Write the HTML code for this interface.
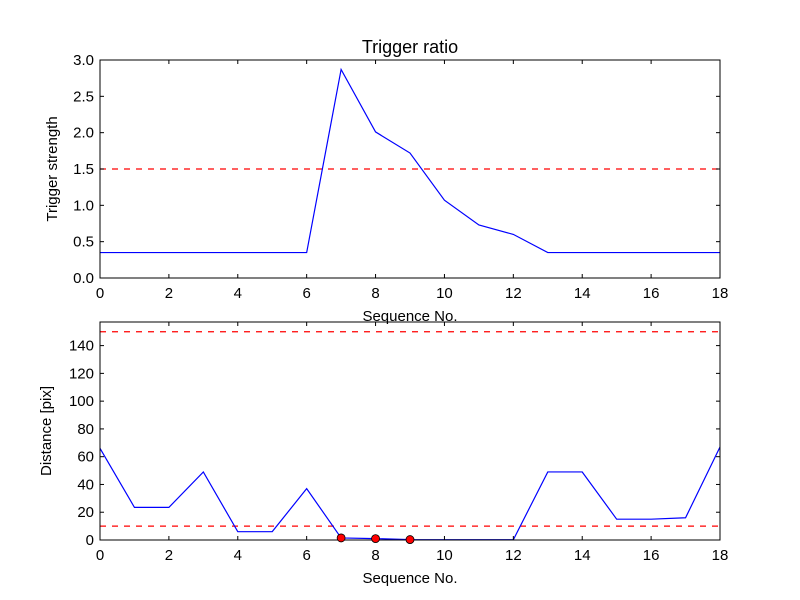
<!DOCTYPE html>
<html><head><meta charset="utf-8"><style>body{margin:0;background:#fff}svg{display:block;font-family:"Liberation Sans","DejaVu Sans",sans-serif}</style></head>
<body>
<svg id="fig" width="800" height="600"></svg>
<script>
const seq = [0,1,2,3,4,5,6,7,8,9,10,11,12,13,14,15,16,17,18];
const ratio = [0.35,0.35,0.35,0.35,0.35,0.35,0.35,2.87,2.01,1.72,1.07,0.73,0.6,0.35,0.35,0.35,0.35,0.35,0.35];
const dist = [66,23.5,23.5,49,6,6,37,1.5,1,0.3,0.2,0.2,0.2,49,49,15,15,16,67];
const markIdx = [7,8,9];
const xTicks = [0,2,4,6,8,10,12,14,16,18];
const yTicksTop = [0,0.5,1.0,1.5,2.0,2.5,3.0];
const yTicksBot = [0,20,40,60,80,100,120,140];
const thrTop = [1.5];
const thrBot = [10,150];
const NS='http://www.w3.org/2000/svg';
const svg=document.getElementById('fig');
function mk(t,a,p){const e=document.createElementNS(NS,t);for(const k in a)e.setAttribute(k,a[k]);(p||svg).appendChild(e);return e;}
function panel(name,top,bot,ymax,ys,yt,fmt,thr,title,ylab){
  const L=100,R=720;
  const g=mk('g',{});
  
  
  const X=v=>L+(v-0)/(18-0)*(R-L);
  const Y=v=>bot-(v/ymax)*(bot-top);
  thr.forEach(t=>{const l=mk('line',{x1:L,x2:R,y1:Y(t),y2:Y(t),stroke:'#f00','stroke-width':1.3,'stroke-dasharray':'6,6'},g);
    });
  const pl=mk('polyline',{points:seq.map((s,i)=>X(s)+','+Y(ys[i])).join(' '),fill:'none',stroke:'#00f','stroke-width':1.2},g);
  
  const fr=mk('rect',{x:L,y:top,width:R-L,height:bot-top,fill:'none',stroke:'#000','stroke-width':1},g);
  
  xTicks.forEach(t=>{const x=X(t);
    mk('line',{x1:x,x2:x,y1:bot,y2:bot-4,stroke:'#000'},g);mk('line',{x1:x,x2:x,y1:top,y2:top+4,stroke:'#000'},g);
    const tx=mk('text',{x:x,y:bot+20,'text-anchor':'middle','font-size':15},g);tx.textContent=t;
    });
  yt.forEach(t=>{const y=Y(t);
    mk('line',{x1:L,x2:L+4,y1:y,y2:y,stroke:'#000'},g);mk('line',{x1:R,x2:R-4,y1:y,y2:y,stroke:'#000'},g);
    const tx=mk('text',{x:L-6,y:y+5,'text-anchor':'end','font-size':15},g);tx.textContent=fmt(t);
    });
  const xl=mk('text',{x:410,y:bot+43,'text-anchor':'middle','font-size':15},g);xl.textContent='Sequence No.';
  
  const yl=mk('text',{x:0,y:0,'text-anchor':'middle','font-size':15,transform:`translate(${name==='top-panel'?57:51},${(top+bot)/2}) rotate(-90)`},g);yl.textContent=ylab;
  
  if(title){const tt=mk('text',{x:410,y:53,'text-anchor':'middle','font-size':18},g);tt.textContent=title;
    }
  return {X,Y,g};
}
panel('top-panel',60,278,3.0,ratio,yTicksTop,v=>v.toFixed(1),thrTop,'Trigger ratio','Trigger strength');
const b=panel('bottom-panel',322,540,157,dist,yTicksBot,v=>String(v),thrBot,null,'Distance [pix]');
markIdx.forEach(i=>{const c=mk('circle',{cx:b.X(seq[i]),cy:b.Y(dist[i]),r:4,fill:'#f00',stroke:'#000','stroke-width':0.8},b.g);
  });
</script>
</body></html>
